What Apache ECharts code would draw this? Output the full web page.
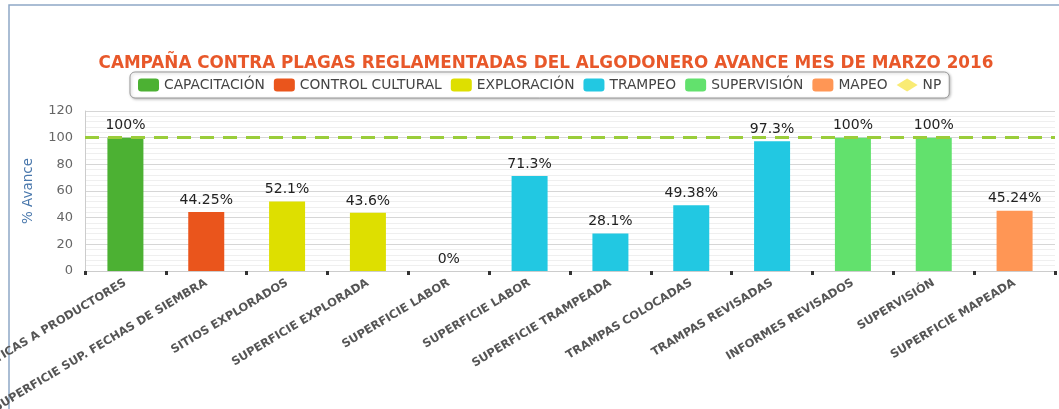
<!DOCTYPE html>
<html><head><meta charset="utf-8">
<script src="https://cdn.jsdelivr.net/npm/echarts@6/dist/echarts.min.js"></script>
<style>html,body{margin:0;padding:0;background:#fff}#c{width:1059px;height:409px}</style>
</head><body><div id="c"></div>
<script>
const categories = ['PLATICAS A PRODUCTORES','SUPERFICIE SUP. FECHAS DE SIEMBRA','SITIOS EXPLORADOS','SUPERFICIE EXPLORADA','SUPERFICIE LABOR','SUPERFICIE LABOR','SUPERFICIE TRAMPEADA','TRAMPAS COLOCADAS','TRAMPAS REVISADAS','INFORMES REVISADOS','SUPERVISIÓN','SUPERFICIE MAPEADA'];
const seriesNames = ['CAPACITACIÓN','CONTROL CULTURAL','EXPLORACIÓN','TRAMPEO','SUPERVISIÓN','MAPEO','NP'];
const capacitacion = [100,'-','-','-','-','-','-','-','-','-','-','-'];
const controlCultural = ['-',44.25,'-','-','-','-','-','-','-','-','-','-'];
const exploracion = ['-','-',52.1,43.6,'-','-','-','-','-','-','-','-'];
const trampeo = ['-','-','-','-',0,71.3,28.1,49.38,97.3,'-','-','-'];
const supervision = ['-','-','-','-','-','-','-','-','-',100,100,'-'];
const mapeo = ['-','-','-','-','-','-','-','-','-','-','-',45.24];
const np = ['-','-','-','-','-','-','-','-','-','-','-','-'];
const metaLine = 100;
const yTicks = [0,20,40,60,80,100,120];

const colors = ['#4cb133','#ea551c','#dedf00','#22c8e2','#62e16d','#ff9655','#f8e650'];
const dataSets = [capacitacion,controlCultural,exploracion,trampeo,supervision,mapeo];

const chart = echarts.init(document.getElementById('c'));
const series = dataSets.map((d,i)=>({
  name: seriesNames[i], type:'bar', stack:'s', data:d, barWidth:36,
  itemStyle:{color:colors[i]},
  label:{show:true, position:'top', formatter:p=>p.value+'%', fontFamily:'DejaVu Sans', fontSize:14, color:'#222', distance:5},
  markLine: i===0 ? {silent:true, symbol:'none', label:{show:false},
    lineStyle:{color:'#9acd3a', type:[14,9], width:3}, data:[{yAxis:metaLine}]} : undefined,
  z: 3
}));
series.push({name:'NP', type:'scatter', data:np, symbol:'diamond', itemStyle:{color:colors[6]}});

chart.setOption({
  animation:false,
  title:{text:'CAMPAÑA CONTRA PLAGAS REGLAMENTADAS DEL ALGODONERO AVANCE MES DE MARZO 2016',
    left:541, textAlign:'center', top:50,
    textStyle:{fontFamily:'DejaVu Sans', fontWeight:'bold', fontSize:16.8, color:'#e8582a'}},
  legend:{top:72, left:130, data:seriesNames.map((n,i)=>({name:n, icon: i===6?'diamond':'roundRect'})),
    itemWidth:21, itemHeight:13, itemGap:9, padding:[6,8,6,8],
    borderColor:'#999', borderWidth:1, borderRadius:5,
    shadowColor:'rgba(0,0,0,0.25)', shadowBlur:3, shadowOffsetX:1, shadowOffsetY:1, backgroundColor:'#fff',
    textStyle:{fontFamily:'DejaVu Sans', fontSize:13.8, color:'#444'}},
  grid:{left:85, right:4, top:111, bottom:138, show:false, outerBoundsMode:'none', containLabel:false},
  xAxis:{type:'category', data:categories,
    axisLine:{show:true, lineStyle:{color:'#ccc'}},
    axisTick:{show:true, length:4, lineStyle:{color:'#333', width:3}},
    axisLabel:{rotate:31, interval:0, margin:11, fontFamily:'DejaVu Sans', fontWeight:'bold', fontSize:11.5, color:'#555'}},
  yAxis:{type:'value', min:0, max:120, interval:20,
    name:'% Avance', nameLocation:'middle', nameGap:50, nameRotate:90,
    nameTextStyle:{fontFamily:'DejaVu Sans', fontSize:13.5, color:'#4a78ac'},
    axisLine:{show:true, lineStyle:{color:'#ccc'}},
    axisTick:{show:false},
    axisLabel:{fontFamily:'DejaVu Sans', fontSize:13, color:'#666', margin:12},
    splitLine:{show:true, lineStyle:{color:'#d6d6d6'}},
    minorTick:{show:false, splitNumber:5},
    minorSplitLine:{show:true, lineStyle:{color:'#efefef'}}},
  graphic:[{type:'polyline', shape:{points:[[9,409],[9,5],[1059,5]]}, style:{stroke:'#8ea8c6', lineWidth:1.5, fill:null}}],
  series: series
});
</script></body></html>
